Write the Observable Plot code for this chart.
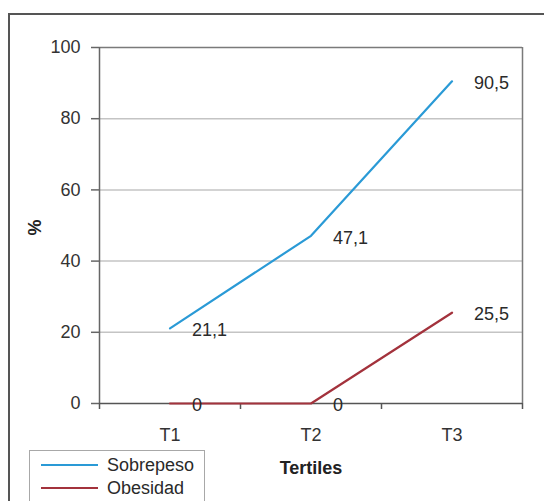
<!DOCTYPE html>
<html>
<head>
<meta charset="utf-8">
<script src="https://cdn.jsdelivr.net/npm/d3@7"></script>
<script src="https://cdn.jsdelivr.net/npm/@observablehq/plot@0.6"></script>
<style>
  html, body { margin: 0; padding: 0; background: #fff; overflow: hidden; }
  #wrap { position: relative; width: 544px; height: 501px; overflow: hidden;
          font-family: "Liberation Sans", Arial, sans-serif; color: #2a2a2a; }
  #border { position: absolute; left: 8px; top: 13px; width: 600px; height: 560px;
            border: 2px solid #555; box-sizing: border-box; pointer-events: none; }
  #chart { position: absolute; left: 0; top: 0; }
  #legend { position: absolute; left: 29px; top: 450px; width: 176px; height: 70px;
            border: 1px solid #a8a8a8; background: #fff; box-sizing: border-box; }
  .entry { position: absolute; left: 11px; height: 22px; display: flex; align-items: center; font-size: 18px; }
  .entry .swatch { width: 57px; height: 0; border-top: 2.5px solid; margin-right: 9px; }
</style>
</head>
<body>
<div id="wrap">
  <div id="chart"></div>
  <div id="border"></div>
  <div id="legend"></div>
</div>
<script>
// Tertile categories and the two series (%)
const categories = ["T1", "T2", "T3"];
const sobrepeso = [21.1, 47.1, 90.5];
const obesidad = [0, 0, 25.5];
const yTicks = [0, 20, 40, 60, 80, 100];
const seriesNames = ["Sobrepeso", "Obesidad"];
const seriesColors = ["#2a9ad6", "#a3323c"];
const seriesValues = [sobrepeso, obesidad];

// Long-format rows: one per series and tertile (pos is the tertile index)
const rows = seriesNames.flatMap((name, s) =>
  categories.map((cat, i) => ({ serie: name, cat, pos: i + 1, value: seriesValues[s][i] }))
);

const fmt = v => String(v).replace(".", ",");
const bandEdges = d3.range(categories.length + 1).map(i => i + 0.5);

const chart = Plot.plot({
  width: 544,
  height: 501,
  marginLeft: 99,
  marginRight: 22,
  marginTop: 47,
  marginBottom: 98,
  style: { fontFamily: "Liberation Sans, Arial, sans-serif", fontSize: "18px", background: "transparent" },
  x: { type: "linear", domain: [0.5, categories.length + 0.5], axis: null },
  y: { domain: [0, 100], axis: null },
  color: { domain: seriesNames, range: seriesColors },
  marks: [
    // horizontal gridlines
    Plot.ruleY(yTicks.filter(t => t > 0 && t < 100), { stroke: "#c4c4c4", strokeWidth: 1.5 }),
    // plot frame (top and right)
    Plot.ruleY([100], { stroke: "#7a7a7a", strokeWidth: 1.5 }),
    Plot.ruleX([categories.length + 0.5], { stroke: "#7a7a7a", strokeWidth: 1.5 }),
    // axis lines
    Plot.ruleX([0.5], { stroke: "#666", strokeWidth: 1.5 }),
    Plot.ruleY([0], { stroke: "#555", strokeWidth: 1.5 }),
    // y axis
    Plot.axisY({ ticks: yTicks, tickSize: 8, tickPadding: 11, label: null,
                 stroke: "#666", strokeWidth: 1.5, fill: "#333" }),
    // x axis: ticks at band edges, labels at band centres
    Plot.axisX({ ticks: bandEdges, tickSize: 6, tickFormat: () => "", label: null,
                 stroke: "#555", strokeWidth: 1.5 }),
    Plot.axisX({ ticks: categories.map((c, i) => i + 1), tickSize: 0, tickPadding: 25,
                 tickFormat: d => categories[d - 1], label: null, fill: "#333" }),
    // series lines
    Plot.line(rows, { x: "pos", y: "value", z: "serie", stroke: "serie", strokeWidth: 2.2 }),
    // value labels
    Plot.text(rows, { x: "pos", y: "value", text: d => fmt(d.value), dx: 22, dy: 2,
                      textAnchor: "start", fill: "#2a2a2a" }),
    // axis titles
    Plot.text(["%"], { frameAnchor: "left", rotate: -90, dx: -64, dy: 10,
                       fontWeight: "bold", fill: "#222" }),
    Plot.text(["Tertiles"], { frameAnchor: "bottom", dy: 70, fontWeight: "bold", fill: "#222" })
  ]
});
document.getElementById("chart").appendChild(chart);

// legend box
const legend = document.getElementById("legend");
seriesNames.forEach((name, i) => {
  const e = document.createElement("div");
  e.className = "entry";
  e.style.top = (3 + i * 23) + "px";
  const sw = document.createElement("span");
  sw.className = "swatch";
  sw.style.borderColor = seriesColors[i];
  const label = document.createElement("span");
  label.textContent = name;
  e.appendChild(sw);
  e.appendChild(label);
  legend.appendChild(e);
});
</script>
</body>
</html>
